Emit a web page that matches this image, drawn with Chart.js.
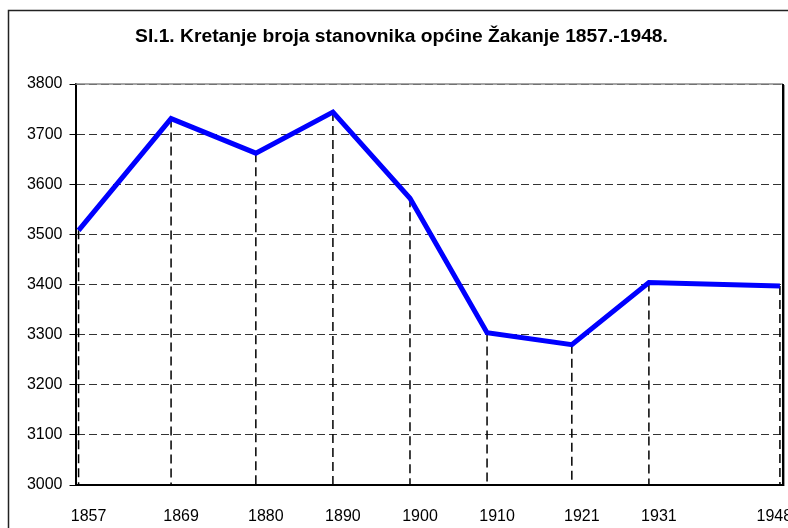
<!DOCTYPE html>
<html>
<head>
<meta charset="utf-8">
<script src="https://cdn.jsdelivr.net/npm/chart.js@4"></script>
<style>
  html, body { margin: 0; padding: 0; background: #fff; }
  #wrap { position: relative; width: 788px; height: 528px; overflow: hidden; }
</style>
</head>
<body>
<div id="wrap"><canvas id="c" width="788" height="528"></canvas></div>
<script>
const titleText = "Sl.1. Kretanje broja stanovnika općine Žakanje 1857.-1948.";
const years = [1857, 1869, 1880, 1890, 1900, 1910, 1921, 1931, 1948];
const yearLabels = ["1857", "1869", "1880", "1890", "1900", "1910", "1921", "1931", "1948"];
const population = [3508, 3731, 3662, 3744, 3572, 3304, 3280, 3404, 3397];
const yTicks = [3000, 3100, 3200, 3300, 3400, 3500, 3600, 3700, 3800];

const points = years.map((y, i) => ({ x: y, y: population[i] }));

const framePlugin = {
  id: 'frame',
  beforeDraw(chart) {
    const ctx = chart.ctx;
    ctx.save();
    ctx.fillStyle = '#fff';
    ctx.fillRect(0, 0, chart.width, chart.height);
    ctx.strokeStyle = '#222';
    ctx.lineWidth = 1.5;
    ctx.strokeRect(8.5, 10.5, 820, 560);
    ctx.restore();
  },
  beforeDatasetsDraw(chart) {
    const ctx = chart.ctx;
    const meta = chart.getDatasetMeta(0);
    const bottom = chart.chartArea.bottom;
    ctx.save();
    ctx.strokeStyle = '#000';
    ctx.lineWidth = 1.5;
    ctx.setLineDash([9, 5]);
    meta.data.forEach(pt => {
      ctx.beginPath();
      ctx.moveTo(pt.x, pt.y);
      ctx.lineTo(pt.x, bottom);
      ctx.stroke();
    });
    ctx.restore();
  },
  afterDraw(chart) {
    const ctx = chart.ctx;
    const a = chart.chartArea;
    ctx.save();
    ctx.strokeStyle = '#888';
    ctx.lineWidth = 1.5;
    ctx.beginPath();
    ctx.moveTo(a.left, a.top);
    ctx.lineTo(a.right, a.top);
    ctx.stroke();
    ctx.strokeStyle = '#000';
    ctx.lineWidth = 2;
    ctx.beginPath();
    ctx.moveTo(a.right, a.top);
    ctx.lineTo(a.right, a.bottom);
    ctx.stroke();
    ctx.strokeStyle = '#999';
    ctx.lineWidth = 1;
    ctx.beginPath();
    ctx.moveTo(a.right + 1.5, a.top + 1);
    ctx.lineTo(a.right + 1.5, a.bottom + 1);
    ctx.stroke();
    ctx.restore();
  }
};

new Chart(document.getElementById('c'), {
  type: 'line',
  data: {
    datasets: [{
      data: points,
      borderColor: '#0000ff',
      borderWidth: 5,
      pointRadius: 0,
      tension: 0,
      fill: false,
      clip: 10
    }]
  },
  options: {
    responsive: false,
    animation: false,
    devicePixelRatio: 1,
    layout: { padding: { left: 20, right: 5, top: 0, bottom: 3.5 } },
    plugins: {
      legend: { display: false },
      tooltip: { enabled: false },
      title: {
        display: true,
        text: titleText,
        color: '#000',
        font: { family: '"Liberation Sans", Arial, sans-serif', size: 19.25, weight: 'bold', lineHeight: 1.2 },
        padding: { top: 25, bottom: 35.9 }
      }
    },
    scales: {
      x: {
        type: 'linear',
        min: 1856.6,
        max: 1948.4,
        grid: { display: false, drawTicks: false, tickLength: 0 },
        border: { display: true, color: '#000', width: 2 },
        afterBuildTicks(scale) { scale.ticks = years.map(v => ({ value: v })); },
        afterFit(scale) { scale.paddingLeft = 0; scale.paddingRight = 0; scale.height = 39.5; },
        ticks: {
          autoSkip: false,
          maxRotation: 0,
          padding: 22,
          labelOffset: 10,
          color: '#000',
          font: { family: '"Liberation Sans", Arial, sans-serif', size: 16 },
          callback(value) {
            const i = years.indexOf(value);
            if (i < 0) return '';
            return i === years.length - 1 ? yearLabels[i] + '       ' : yearLabels[i];
          }
        }
      },
      y: {
        min: 3000,
        max: 3800,
        afterBuildTicks(scale) { scale.ticks = yTicks.map(v => ({ value: v })); },
        afterFit(scale) { scale.width = 55.5; },
        grid: {
          color: '#333',
          lineWidth: 1,
          drawTicks: true,
          tickLength: 6,
          tickColor: '#000',
          tickWidth: 1,
          tickBorderDash: []
        },
        border: { display: true, color: '#000', width: 2, dash: [8, 4] },
        ticks: {
          padding: 7,
          color: '#000',
          font: { family: '"Liberation Sans", Arial, sans-serif', size: 16 },
          callback(value) { return String(value); }
        }
      }
    }
  },
  plugins: [framePlugin]
});
</script>
</body>
</html>
